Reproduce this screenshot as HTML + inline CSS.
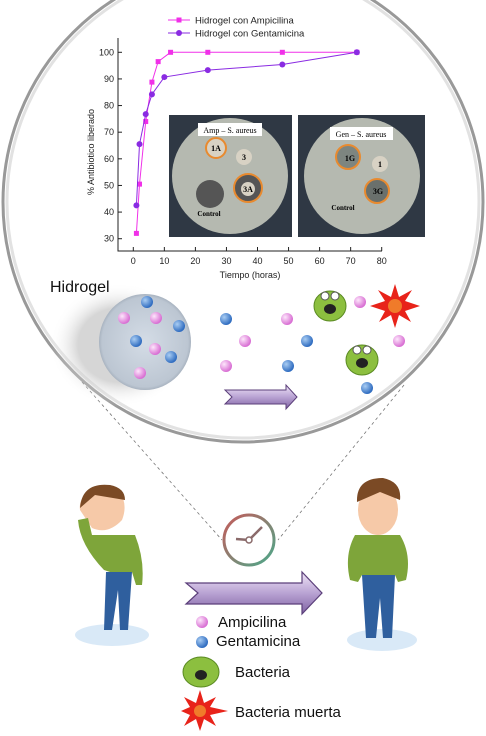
<!DOCTYPE html>
<html><head><meta charset="utf-8"><style>
body{margin:0;width:486px;height:736px;background:#fff;overflow:hidden;font-family:"Liberation Sans",sans-serif}
svg{display:block}
</style></head><body>
<svg width="486" height="736" viewBox="0 0 486 736">
<defs>
<radialGradient id="pk" cx="35%" cy="35%" r="65%"><stop offset="0" stop-color="#fde6fb"/><stop offset="1" stop-color="#d86ed3"/></radialGradient>
<radialGradient id="bl" cx="35%" cy="35%" r="65%"><stop offset="0" stop-color="#a9cdf3"/><stop offset="1" stop-color="#2f6cc0"/></radialGradient>
<radialGradient id="disc" cx="50%" cy="50%" r="55%"><stop offset="0" stop-color="#d4dce6"/><stop offset="0.85" stop-color="#bcc6d2"/><stop offset="1" stop-color="#8a96a4"/></radialGradient>
<radialGradient id="shade" cx="50%" cy="50%" r="50%"><stop offset="0.6" stop-color="#bbb"/><stop offset="1" stop-color="#fff" stop-opacity="0"/></radialGradient>
<linearGradient id="arr" x1="0" y1="0" x2="0" y2="1"><stop offset="0" stop-color="#efe4f7"/><stop offset="0.5" stop-color="#b9a3d3"/><stop offset="1" stop-color="#7f62a3"/></linearGradient>
<linearGradient id="clk" x1="0" y1="0" x2="1" y2="1"><stop offset="0" stop-color="#c65a5a"/><stop offset="1" stop-color="#4aa98a"/></linearGradient>
<clipPath id="cc"><circle cx="243" cy="202" r="238"/></clipPath>
</defs>

<!-- dashed lines -->
<line x1="82" y1="382" x2="222" y2="540" stroke="#777" stroke-dasharray="3,3" stroke-width="0.8"/>
<line x1="404" y1="385" x2="278" y2="540" stroke="#777" stroke-dasharray="3,3" stroke-width="0.8"/>

<!-- magnifier circle -->
<g>
<circle cx="243" cy="202" r="240" fill="#fff" stroke="#999" stroke-width="3"/>
<circle cx="243" cy="202" r="236" fill="none" stroke="#e2e2e2" stroke-width="3"/>
</g>

<g clip-path="url(#cc)">
<g>
<rect x="169" y="115" width="123" height="122" fill="#2f3844"/>
<circle cx="230" cy="176" r="58" fill="#b5b9b0"/>
<rect x="198" y="123" width="64" height="13" fill="#fff"/>
<text x="230" y="133" font-family="Liberation Serif" font-size="8" text-anchor="middle">Amp – S. aureus</text>
<circle cx="216" cy="148" r="10" fill="#d8d2c4" stroke="#e88a2f" stroke-width="2"/><text x="216" y="151" font-size="8" font-family="Liberation Serif" text-anchor="middle" font-weight="bold">1A</text>
<circle cx="244" cy="157" r="8" fill="#d8d2c4"/><text x="244" y="160" font-size="8" font-family="Liberation Serif" text-anchor="middle" font-weight="bold">3</text>
<circle cx="248" cy="188" r="14" fill="#555" stroke="#e88a2f" stroke-width="2"/><circle cx="248" cy="189" r="7" fill="#d8d2c4"/><text x="248" y="192" font-size="8" font-family="Liberation Serif" text-anchor="middle" font-weight="bold">3A</text>
<circle cx="210" cy="194" r="14" fill="#555"/><text x="209" y="216" font-size="7" font-family="Liberation Serif" text-anchor="middle" font-weight="bold">Control</text>
</g>
<g>
<rect x="298" y="115" width="127" height="122" fill="#2f3844"/>
<circle cx="362" cy="176" r="58" fill="#b5b9b0"/>
<rect x="330" y="127" width="63" height="13" fill="#fff"/>
<text x="361" y="137" font-family="Liberation Serif" font-size="8" text-anchor="middle">Gen – S. aureus</text>
<circle cx="348" cy="157" r="12" fill="#7d8580" stroke="#e88a2f" stroke-width="2"/><text x="350" y="161" font-size="8" font-family="Liberation Serif" text-anchor="middle" font-weight="bold">1G</text>
<circle cx="380" cy="164" r="8" fill="#d8d2c4"/><text x="380" y="167" font-size="8" font-family="Liberation Serif" text-anchor="middle" font-weight="bold">1</text>
<circle cx="377" cy="191" r="12" fill="#6a706c" stroke="#e88a2f" stroke-width="2"/><text x="378" y="194" font-size="8" font-family="Liberation Serif" text-anchor="middle" font-weight="bold">3G</text>
<text x="343" y="210" font-size="7" font-family="Liberation Serif" text-anchor="middle" font-weight="bold">Control</text>
</g>
</g>

<g id="chart"></g>

<ellipse cx="120" cy="345" rx="70" ry="62" fill="url(#shade)" opacity="0.6"/>
<text x="50" y="292" font-size="16" fill="#111">Hidrogel</text>
<ellipse cx="145" cy="342" rx="46" ry="48" fill="url(#disc)"/>
<g id="balls"></g>

<g>
<ellipse cx="330" cy="306" rx="16" ry="15" fill="#8cbf3f" stroke="#5a8a22"/>
<ellipse cx="330" cy="309" rx="6" ry="5" fill="#222"/><circle cx="325" cy="296" r="4" fill="#fff" stroke="#555"/><circle cx="335" cy="296" r="4" fill="#fff" stroke="#555"/>
</g>
<g>
<ellipse cx="362" cy="360" rx="16" ry="15" fill="#8cbf3f" stroke="#5a8a22"/>
<ellipse cx="362" cy="363" rx="6" ry="5" fill="#222"/><circle cx="357" cy="350" r="4" fill="#fff" stroke="#555"/><circle cx="367" cy="350" r="4" fill="#fff" stroke="#555"/>
</g>
<g>
<polygon points="395,284 399,297 412,290 405,301 420,306 405,311 411,322 399,315 395,328 391,315 379,322 385,311 370,306 385,301 378,290 391,297" fill="#e8231a"/>
<circle cx="395" cy="306" r="7" fill="#f07b2a"/>
</g>
<polygon points="225,390 286,390 286,385 297,397 286,409 286,404 225,404 232,397" fill="url(#arr)" stroke="#5b3f7a" stroke-width="1"/>

<g>
<circle cx="249" cy="540" r="25" fill="#fff" stroke="url(#clk)" stroke-width="3"/>
<line x1="249" y1="540" x2="262" y2="527" stroke="#8a6a6a" stroke-width="2.5"/>
<line x1="249" y1="540" x2="236" y2="539" stroke="#8a6a6a" stroke-width="2.5"/>
<circle cx="249" cy="540" r="3" fill="#fff" stroke="#8a6a6a" stroke-width="1.5"/>
</g>

<polygon points="186,583 302,583 302,572 322,593 302,614 302,604 186,604 198,593" fill="url(#arr)" stroke="#5b3f7a" stroke-width="1.2"/>

<g>
<ellipse cx="112" cy="635" rx="37" ry="11" fill="#d9e9f7"/>
<path d="M80 510 Q78 495 95 490 L120 492 Q128 505 122 520 Q108 535 92 528 Z" fill="#f6c9a8"/>
<path d="M80 508 Q82 482 110 485 Q125 488 125 500 L95 495 Z" fill="#7b4a25"/>
<path d="M92 535 L135 535 Q145 560 142 585 L136 585 L132 572 L110 572 L104 570 Q80 545 78 520 L88 518 Z" fill="#7ea53a"/>
<path d="M106 572 L132 572 L128 630 L120 630 L118 590 L112 630 L104 630 Z" fill="#2f5f9e"/>
</g>
<g>
<ellipse cx="382" cy="640" rx="35" ry="11" fill="#d9e9f7"/>
<ellipse cx="378" cy="510" rx="20" ry="25" fill="#f6c9a8"/>
<path d="M357 502 Q356 478 383 478 Q402 482 400 500 L380 492 Z" fill="#7b4a25"/>
<path d="M355 535 L400 535 Q412 555 406 580 L398 582 L395 575 L362 575 L358 582 L350 580 Q344 555 355 535 Z" fill="#7ea53a"/>
<path d="M362 575 L395 575 L392 638 L383 638 L380 598 L376 638 L366 638 Z" fill="#2f5f9e"/>
</g>

<g>
<circle cx="202" cy="622" r="6" fill="url(#pk)"/>
<text x="218" y="627" font-size="15" fill="#111">Ampicilina</text>
<circle cx="202" cy="642" r="6" fill="url(#bl)"/>
<text x="216" y="646" font-size="15" fill="#111">Gentamicina</text>
<ellipse cx="201" cy="672" rx="18" ry="15" fill="#8cbf3f" stroke="#5a8a22"/>
<ellipse cx="201" cy="675" rx="6" ry="5" fill="#222"/>
<text x="235" y="677" font-size="15" fill="#111">Bacteria</text>
<polygon points="200,690 204,703 216,697 210,707 228,711 210,715 216,726 204,719 200,731 196,719 184,726 190,715 181,711 190,707 184,697 196,703" fill="#e8231a"/>
<circle cx="200" cy="711" r="6" fill="#f07b2a"/>
<text x="235" y="717" font-size="15" fill="#111">Bacteria muerta</text>
</g>
</svg>
<script>
const xTicks=[0,10,20,30,40,50,60,70,80];
const yTicks=[30,40,50,60,70,80,90,100];
const ampX=[1,2,4,6,8,12,24,48,72];
const ampY=[32,50.5,74,88.8,96.5,100,100,100,100];
const genX=[1,2,4,6,10,24,48,72];
const genY=[42.5,65.5,76.8,84.2,90.7,93.3,95.4,100];
const seriesNames=["Hidrogel con Ampicilina","Hidrogel con Gentamicina"];
const NS="http://www.w3.org/2000/svg";
const g=document.getElementById('chart');
const X=v=>133.3+v*3.105, Y=v=>52.3+(100-v)*2.663;
function mk(t,a,p){const e=document.createElementNS(NS,t);for(const k in a)e.setAttribute(k,a[k]);(p||g).appendChild(e);return e;}
const ax=mk('path',{d:'M118 38 L118 251 L382 251',fill:'none',stroke:'#222','stroke-width':1});


xTicks.forEach(v=>{mk('line',{x1:X(v),y1:251,x2:X(v),y2:247,stroke:'#222'});
const t=mk('text',{x:X(v),y:264,'font-size':9,'text-anchor':'middle',fill:'#222'});t.textContent=v;

});
yTicks.forEach(v=>{mk('line',{x1:118,y1:Y(v),x2:122,y2:Y(v),stroke:'#222'});
const t=mk('text',{x:114,y:Y(v)+3,'font-size':9,'text-anchor':'end',fill:'#222'});t.textContent=v;

});
const xt=mk('text',{x:250,y:278,'font-size':9,'text-anchor':'middle',fill:'#222'});xt.textContent='Tiempo (horas)';


const yt=mk('text',{x:0,y:0,'font-size':9,'text-anchor':'middle',fill:'#222',transform:'translate(94,152) rotate(-90)'});yt.textContent='% Antibiotico liberado';


function series(xs,ys,col,sq,name){
 const l=mk('polyline',{points:xs.map((x,i)=>X(x)+','+Y(ys[i])).join(' '),fill:'none',stroke:col,'stroke-width':1});
 
 
 xs.forEach((x,i)=>{const m=sq?mk('rect',{x:X(x)-2.5,y:Y(ys[i])-2.5,width:5,height:5,fill:col}):mk('circle',{cx:X(x),cy:Y(ys[i]),r:3,fill:col});
 
 });
}
series(ampX,ampY,'#f030e8',true,'ampicilina');
series(genX,genY,'#8a2be2',false,'gentamicina');
[[20,'#f030e8',true],[33,'#8a2be2',false]].forEach((d,i)=>{
 mk('line',{x1:168,y1:d[0],x2:190,y2:d[0],stroke:d[1]});
 const m=d[2]?mk('rect',{x:176.5,y:d[0]-2.5,width:5,height:5,fill:d[1]}):mk('circle',{cx:179,cy:d[0],r:3,fill:d[1]});
 
 
 const t=mk('text',{x:195,y:d[0]+3.5,'font-size':9.5,fill:'#222'});t.textContent=seriesNames[i];
 
 
});
const bg=document.getElementById('balls');
const pinks=[[124,318],[156,318],[155,349],[140,373],[287,319],[245,341],[226,366],[399,341],[360,302]];
const blues=[[147,302],[179,326],[136,341],[171,357],[226,319],[307,341],[288,366],[367,388]];
pinks.forEach(p=>{const c=mk('circle',{cx:p[0],cy:p[1],r:6,fill:'url(#pk)'},bg);

});
blues.forEach(p=>{const c=mk('circle',{cx:p[0],cy:p[1],r:6,fill:'url(#bl)'},bg);

});
</script>
</body></html>
